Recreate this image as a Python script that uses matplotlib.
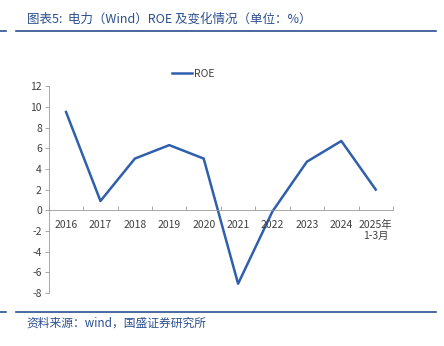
import matplotlib
matplotlib.use('Agg')
import matplotlib.pyplot as plt
from matplotlib.lines import Line2D

plt.rcParams['font.family'] = ['Noto Sans CJK SC', 'DejaVu Sans']
plt.rcParams['axes.unicode_minus'] = False

years = ['2016', '2017', '2018', '2019', '2020', '2021', '2022', '2023', '2024', '2025年\n1-3月']
roe = [9.5, 0.9, 5.0, 6.3, 5.0, -7.1, -0.1, 4.7, 6.7, 2.0]

blue = '#2f5fad'
title_blue = '#2b4f8f'
grey = '#404040'

fig = plt.figure(figsize=(4.44, 3.46), dpi=100)
ax = fig.add_axes([0.110, 0.153, 0.775, 0.598])

x = list(range(len(years)))
ax.plot(x, roe, color=blue, lw=1.8, label='ROE')

ax.set_xlim(-0.5, len(years) - 0.5)
ax.set_ylim(-8, 12)
ax.set_yticks(range(-8, 13, 2))
ax.tick_params(axis='y', labelsize=7.5, colors=grey, length=3, width=0.6, color='#999999', pad=2)

# x axis drawn through zero, ticks between categories
for s in ['top', 'right']:
    ax.spines[s].set_visible(False)
ax.spines['bottom'].set_position(('data', 0))
ax.spines['bottom'].set_color('#999999')
ax.spines['left'].set_color('#999999')
ax.spines['bottom'].set_linewidth(0.6)
ax.spines['left'].set_linewidth(0.6)
ax.set_xticks([i + 0.5 for i in range(-1, len(years))])
ax.set_xticklabels([])
ax.tick_params(axis='x', length=3, width=0.6, color='#999999', direction='in')
for i, lab in enumerate(years):
    ax.text(i, -0.9, lab, ha='center', va='top', fontsize=7.5, color=grey, linespacing=1.2)

ax.legend(handles=[Line2D([], [], color=blue, lw=1.8)], labels=['ROE'],
          loc='upper center', bbox_to_anchor=(0.42, 1.13), frameon=False,
          fontsize=7.5, handlelength=1.9, handletextpad=0.2, labelcolor=grey)

# header and footer
fig.text(0.06, 0.945, '图表5:  电力（Wind）ROE 及变化情况（单位：%）', fontsize=9,
         color=title_blue, va='center', ha='left')
fig.add_artist(Line2D([0.0, 0.014], [0.910, 0.910], color=title_blue, lw=1.2))
fig.add_artist(Line2D([0.036, 0.983], [0.910, 0.910], color=title_blue, lw=1.2))
fig.add_artist(Line2D([0.0, 0.014], [0.098, 0.098], color=title_blue, lw=1.2))
fig.add_artist(Line2D([0.036, 0.983], [0.098, 0.098], color=title_blue, lw=1.2))
fig.text(0.06, 0.067, '资料来源：wind，国盛证券研究所', fontsize=8.5,
         color=title_blue, va='center', ha='left')

fig.savefig('out.png', dpi=100)
